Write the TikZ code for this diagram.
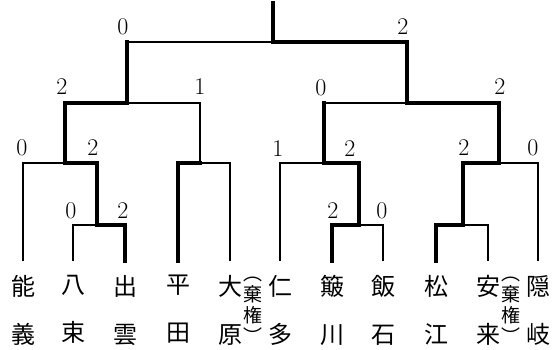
\documentclass[tikz,border=0pt]{standalone}
\usepackage{fontspec}
\usetikzlibrary{positioning}
\newfontfamily\jpfont{Noto Sans CJK JP}

\tikzset{
	lose/.style={line width=1.2pt},
	win/.style={line width=3.4pt, line cap=rect},
	team/.style={font=\jpfont\fontsize{24}{48}\selectfont, align=center, inner sep=0pt},
	forfeit/.style={font=\jpfont\fontsize{19}{21}\selectfont, align=center, inner sep=0pt},
	score/.style={font=\fontsize{24}{24}\selectfont, inner sep=0pt},
}

\begin{document}
\begin{tikzpicture}[x=1pt, y=-1pt]
	\useasboundingbox (0,0) rectangle (558,350);

	% line ends of the eleven teams
	\coordinate (t1) at (23,261);
	\coordinate (t2) at (73,261);
	\coordinate (t3) at (125,261);
	\coordinate (t4) at (178,261);
	\coordinate (t5) at (230,261);
	\coordinate (t6) at (280,261);
	\coordinate (t7) at (332,261);
	\coordinate (t8) at (383,261);
	\coordinate (t9) at (436,261);
	\coordinate (t10) at (488,261);
	\coordinate (t11) at (538,261);

	\node[team, below=14pt of t1] (n1) {能\\義};
	\node[team, below=14pt of t2] (n2) {八\\束};
	\node[team, below=14pt of t3] (n3) {出\\雲};
	\node[team, below=14pt of t4] (n4) {平\\田};
	\node[team, below=14pt of t5] (n5) {大\\原};
	\node[team, below=14pt of t6] (n6) {仁\\多};
	\node[team, below=14pt of t7] (n7) {簸\\川};
	\node[team, below=14pt of t8] (n8) {飯\\石};
	\node[team, below=14pt of t9] (n9) {松\\江};
	\node[team, below=14pt of t10] (n10) {安\\来};
	\node[team, below=14pt of t11] (n11) {隠\\岐};
	\node[forfeit, right=1pt of n5] (k5) {︵\\棄\\権\\︶};
	\node[forfeit, right=1pt of n10] (k10) {︵\\棄\\権\\︶};

	% match points
	\coordinate (m1) at (97,225);
	\coordinate (m2) at (359,225);
	\coordinate (m3) at (463,225);
	\coordinate (q1) at (65,163);
	\coordinate (q2) at (200,163);
	\coordinate (q3) at (324,163);
	\coordinate (q4) at (499,163);
	\coordinate (s1) at (127,103);
	\coordinate (s2) at (407,103);
	\coordinate (f) at (273,42);
	\coordinate (top) at (273,3);

	\draw[lose] (t1) |- (q1);
	\draw[lose] (t2) |- (m1);
	\draw[win] (t3) |- (m1);
	\draw[win] (m1) |- (q1);
	\draw[win] (q1) |- (s1);
	\draw[win] (t4) |- (q2);
	\draw[lose] (t5) |- (q2);
	\draw[lose, line width=1.8pt] (q2) |- (s1);
	\draw[win] (s1) -- (s1 |- f);
	\draw[lose] (s1 |- f) -- (f);

	\draw[lose] (t6) |- (q3);
	\draw[win] (t7) |- (m2);
	\draw[lose] (t8) |- (m2);
	\draw[win] (m2) |- (q3);
	\draw[win] (q3) -- (q3 |- s2);
	\draw[lose, line width=1.8pt] (q3 |- s2) -- (s2);
	\draw[win] (t9) |- (m3);
	\draw[lose] (t10) |- (m3);
	\draw[win] (m3) |- (q4);
	\draw[lose] (t11) |- (q4);
	\draw[win] (q4) |- (s2);

	\draw[win] (s2) |- (f);
	\draw[win] (f) -- (top);

	% scores
	\node[score] (r1) at (123,27) {0};
	\node[score] (r2) at (403,27) {2};
	\node[score] (r3) at (62,87) {2};
	\node[score] (r4) at (200,87) {1};
	\node[score] (r5) at (321,88) {0};
	\node[score] (r6) at (500,87) {2};
	\node[score] (r7) at (22,148) {0};
	\node[score] (r8) at (93,148) {2};
	\node[score] (r9) at (278,149) {1};
	\node[score] (r10) at (350,149) {2};
	\node[score] (r11) at (464,148) {2};
	\node[score] (r12) at (533,148) {0};
	\node[score] (r13) at (71,211) {0};
	\node[score] (r14) at (123,211) {2};
	\node[score] (r15) at (333,211) {2};
	\node[score] (r16) at (382,211) {0};
\end{tikzpicture}
\end{document}
